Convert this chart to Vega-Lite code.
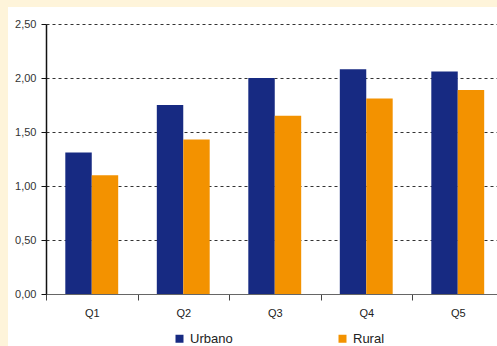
{
  "$schema": "https://vega.github.io/schema/vega-lite/v6.json",
  "width": 489,
  "height": 339,
  "autosize": {"type": "none"},
  "padding": {"left": 8, "top": 7, "right": 0, "bottom": 0},
  "background": "#FEF4DA",
  "data": {
    "values": [
      {"quintil": "Q1", "zona": "Urbano", "valor": 1.31},
      {"quintil": "Q1", "zona": "Rural", "valor": 1.10},
      {"quintil": "Q2", "zona": "Urbano", "valor": 1.75},
      {"quintil": "Q2", "zona": "Rural", "valor": 1.43},
      {"quintil": "Q3", "zona": "Urbano", "valor": 2.00},
      {"quintil": "Q3", "zona": "Rural", "valor": 1.65},
      {"quintil": "Q4", "zona": "Urbano", "valor": 2.08},
      {"quintil": "Q4", "zona": "Rural", "valor": 1.81},
      {"quintil": "Q5", "zona": "Urbano", "valor": 2.06},
      {"quintil": "Q5", "zona": "Rural", "valor": 1.89}
    ]
  },
  "mark": {"type": "bar"},
  "encoding": {
    "x": {
      "field": "quintil",
      "type": "nominal",
      "scale": {"range": [38, 495.5], "paddingInner": 0, "paddingOuter": 0},
      "axis": {
        "title": null,
        "offset": -52,
        "labelAngle": 0,
        "tickBand": "extent",
        "tickSize": 6,
        "tickColor": "#444444",
        "domainColor": "#666666",
        "labelPadding": 7,
        "labelFont": "Liberation Sans",
        "labelFontSize": 11,
        "labelColor": "#222222",
        "grid": false
      }
    },
    "xOffset": {
      "field": "zona",
      "type": "nominal",
      "sort": ["Urbano", "Rural"],
      "scale": {"paddingInner": 0, "paddingOuter": 0.73}
    },
    "y": {
      "field": "valor",
      "type": "quantitative",
      "scale": {"domain": [0, 2.5], "range": [287, 17], "nice": false},
      "axis": {
        "title": null,
        "offset": -38,
        "values": [0, 0.5, 1, 1.5, 2, 2.5],
        "labelExpr": "replace(format(datum.value, '.2f'), '.', ',')",
        "tickSize": 5,
        "tickColor": "#111111",
        "domainColor": "#111111",
        "domainWidth": 1.5,
        "labelPadding": 5,
        "labelFont": "Liberation Sans",
        "labelFontSize": 11,
        "labelColor": "#333333",
        "grid": true,
        "gridColor": "#333333",
        "gridDash": [3, 3],
        "gridWidth": 1,
        "gridOpacity": {"condition": {"test": "datum.value === 0", "value": 0}, "value": 1}
      }
    },
    "color": {
      "field": "zona",
      "type": "nominal",
      "sort": ["Urbano", "Rural"],
      "scale": {"domain": ["Urbano", "Rural"], "range": ["#172A82", "#F39200"]},
      "legend": {
        "orient": "none",
        "legendX": 165,
        "legendY": 325,
        "direction": "horizontal",
        "title": null,
        "symbolType": "square",
        "symbolSize": 64,
        "symbolStrokeWidth": 0,
        "symbolOpacity": 1,
        "labelFont": "Liberation Sans",
        "labelFontSize": 13,
        "labelColor": "#222222",
        "labelOffset": 4,
        "columnPadding": 103,
        "padding": 0
      }
    }
  },
  "config": {
    "view": {"fill": "white", "stroke": null}
  }
}
